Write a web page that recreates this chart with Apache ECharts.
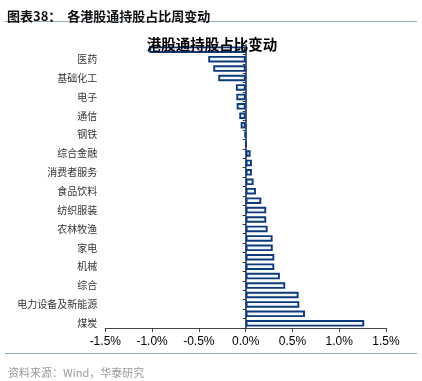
<!DOCTYPE html>
<html><head><meta charset="utf-8">
<script src="https://cdn.jsdelivr.net/npm/echarts@6/dist/echarts.min.js"></script>
<style>html,body{margin:0;padding:0;background:#fff}#c{width:422px;height:381px}</style>
</head><body><div id="c"></div>
<script>
// categories listed top to bottom
const categories = ['非银行金融','医药','计算机','基础化工','传媒','电子','汽车','通信','有色金属','钢铁',
  '国防军工','综合金融','建材','消费者服务','轻工制造','食品饮料','商贸零售','纺织服装','建筑','农林牧渔',
  '交通运输','家电','房地产','机械','电力及公用事业','综合','石油石化','电力设备及新能源','银行','煤炭'];
const values = [-1.03,-0.40,-0.346,-0.293,-0.104,-0.100,-0.096,-0.068,-0.053,-0.010,
  0.005,0.053,0.067,0.067,0.085,0.110,0.167,0.220,0.220,0.235,
  0.288,0.290,0.306,0.306,0.366,0.423,0.566,0.573,0.634,1.267];
const xTicks = {min:-1.5, max:1.5, step:0.5};
const pageTitle = '图表38：  各港股通持股占比周变动';
const chartTitle = '港股通持股占比变动';
const source = '资料来源：Wind，华泰研究';

const chart = echarts.init(document.getElementById('c'));
chart.setOption({
  animation:false,
  backgroundColor:'#fff',
  title:[
    {text:pageTitle,left:2,top:5,textStyle:{fontFamily:'Noto Sans CJK SC',fontSize:13,fontWeight:'bold',color:'#111'}},
    {text:chartTitle,left:207,top:32,textAlign:'center',textStyle:{fontFamily:'Noto Sans CJK SC',fontSize:14.5,fontWeight:'bold',color:'#000'}},
    {text:source,left:3,top:362,textStyle:{fontFamily:'Noto Sans CJK SC',fontSize:11,fontWeight:'normal',color:'#9a9a9a'}}
  ],
  graphic:[
    {type:'line',shape:{x1:5,y1:21.5,x2:417,y2:21.5},style:{stroke:'#8fa6bf',lineWidth:1.2}},
    {type:'line',shape:{x1:5,y1:353.5,x2:417,y2:353.5},style:{stroke:'#8fa6bf',lineWidth:1.2}}
  ],
  grid:{left:105.3,right:36,top:45,bottom:53,containLabel:false,outerBoundsMode:'none'},
  xAxis:{type:'value',min:xTicks.min,max:xTicks.max,interval:xTicks.step,
    axisLine:{show:true,onZero:false,lineStyle:{color:'#444',width:1}},
    axisTick:{show:true,length:4,lineStyle:{color:'#444'}},
    splitLine:{show:false},
    axisLabel:{formatter:v=>v.toFixed(1)+'%',fontFamily:'Liberation Sans',fontSize:12,color:'#000',margin:8}},
  yAxis:[
    {type:'category',data:categories,inverse:true,
      axisLine:{show:true,onZero:true,lineStyle:{color:'#0a2a55',width:1.5}},
      axisTick:{show:true,interval:0,length:3,lineStyle:{color:'#333'}},
      axisLabel:{show:false}},
    {type:'category',data:categories,inverse:true,position:'left',
      axisLine:{show:false,onZero:false},axisTick:{show:false},splitLine:{show:false},
      axisLabel:{interval:(i)=>i%2===1,margin:8,fontFamily:'Noto Sans CJK SC',fontSize:10,color:'#333'}}
  ],
  series:[{type:'bar',data:values,barWidth:6.5,yAxisIndex:0,
    itemStyle:{color:'#f3f7fc',borderColor:'#0d3b7a',borderWidth:1.9}}]
});
</script></body></html>
